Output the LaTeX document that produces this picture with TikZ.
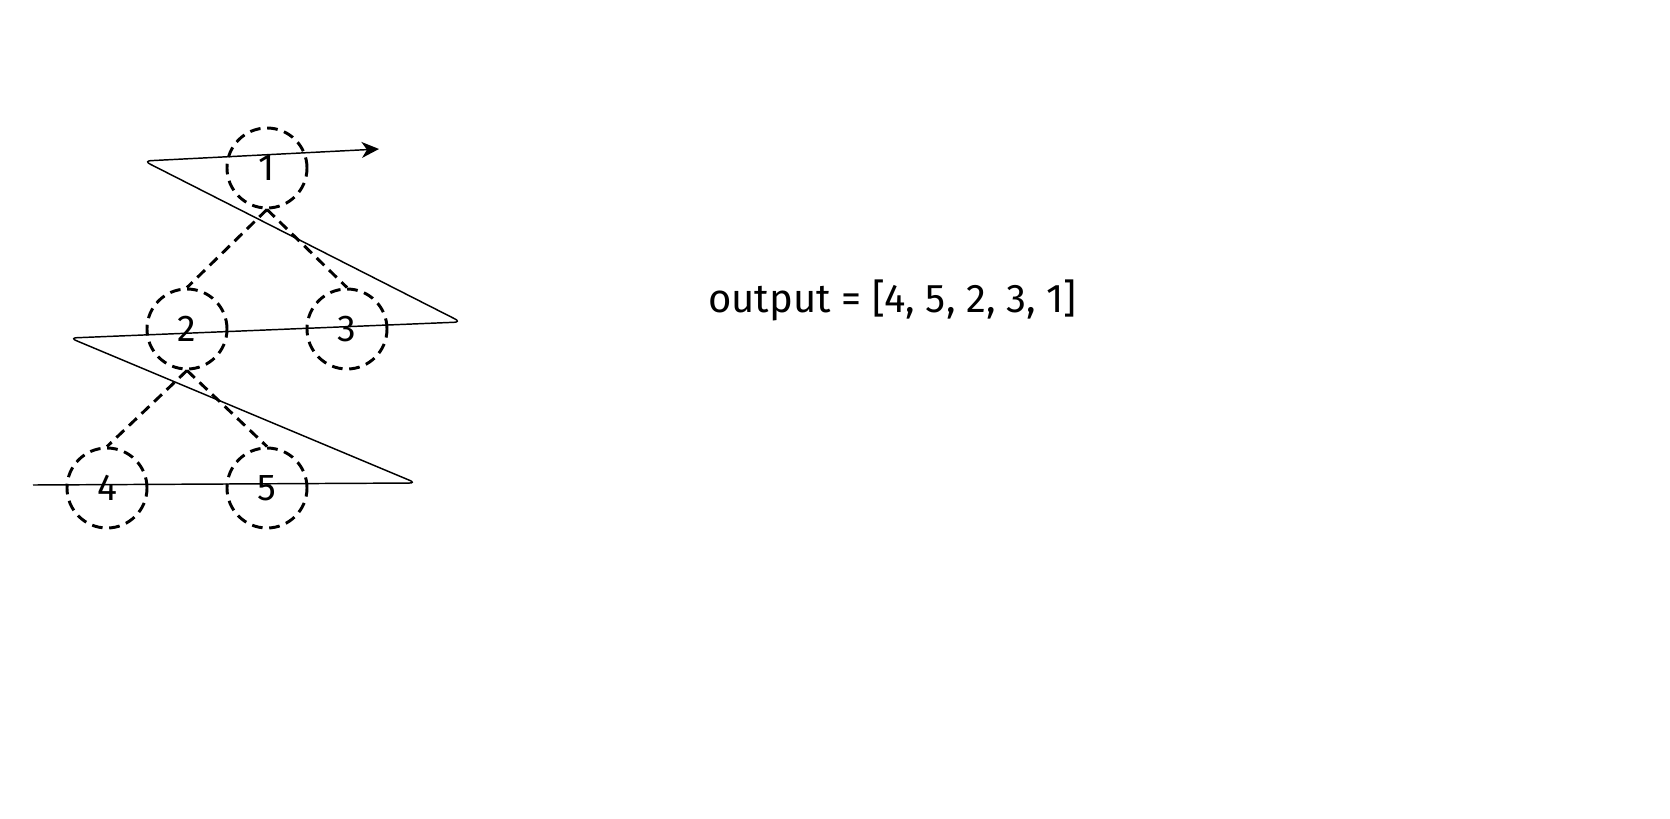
\documentclass[tikz,border=0pt]{standalone}
\usepackage{fontspec}
\setmainfont{Fira Sans}
\usetikzlibrary{arrows.meta}
\begin{document}
\begin{tikzpicture}[x=0.75pt,y=-0.75pt,
  treenode/.style={circle,draw,line width=2.2pt,dash pattern=on 8pt off 5pt,minimum size=60pt,inner sep=0pt,font=\fontsize{28}{32}\selectfont},
  treeedge/.style={line width=2.2pt,dash pattern=on 8pt off 5pt},
  zigzag/.style={line width=1.1pt,rounded corners=5pt},
  outlabel/.style={anchor=west,inner sep=0pt,font=\fontsize{30}{34}\selectfont}]
\useasboundingbox (0,0) rectangle (1670,818);
\node[treenode] (n1) at (267,168) {1};
\node[treenode] (n2) at (187,329) {2};
\node[treenode] (n3) at (347,329) {3};
\node[treenode] (n4) at (107,488) {4};
\node[treenode] (n5) at (267,488) {5};
\draw[treeedge] (n1.south) -- (n2.north);
\draw[treeedge] (n1.south) -- (n3.north);
\draw[treeedge] (n2.south) -- (n4.north);
\draw[treeedge] (n2.south) -- (n5.north);
\coordinate (z0) at (33,485);
\coordinate (z1) at (416,483);
\coordinate (z2) at (70,338);
\coordinate (z3) at (461,322);
\coordinate (z4) at (144,161);
\coordinate (z5) at (379,149);
\draw[zigzag,-{Stealth[length=13pt,width=12pt,inset=4pt]}] (z0) -- (z1) -- (z2) -- (z3) -- (z4) -- (z5);
\node[outlabel] (out) at (708,300) {output = [4, 5, 2, 3, 1]};
\end{tikzpicture}
\end{document}
